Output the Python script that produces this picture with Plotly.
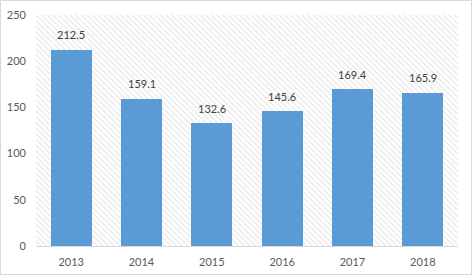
import plotly.graph_objects as go

years = ["2013", "2014", "2015", "2016", "2017", "2018"]
values = [212.5, 159.1, 132.6, 145.6, 169.4, 165.9]
y_ticks = [0, 50, 100, 150, 200, 250]

W, H = 472, 276
ml, mr, mt, mb = 36, 14, 15, 30
pw, ph = W - ml - mr, H - mt - mb

xs = list(range(len(years)))

fig = go.Figure()
# hatched plot-area background
fig.add_trace(go.Bar(
    x=[(len(years) - 1) / 2], y=[max(y_ticks)], width=len(years),
    marker=dict(color="white", line=dict(width=0),
                pattern=dict(shape="\\", fgcolor="#cfcfcf", bgcolor="white", size=4, solidity=0.3)),
    hoverinfo="skip", showlegend=False,
))
fig.add_trace(go.Bar(
    x=xs, y=values, width=0.58,
    marker=dict(color="#5B9BD5", line=dict(width=0)),
    showlegend=False,
))
for x, v in zip(xs, values):
    fig.add_annotation(x=x, y=v, text=f"{v:.1f}", showarrow=False, yshift=15,
                       font=dict(family="Lato, Liberation Sans, sans-serif", size=11, color="#404040"))

fig.add_shape(type="rect", xref="paper", yref="paper",
              x0=(0.5 - ml) / pw, x1=(W - 0.5 - ml) / pw,
              y0=-(mb - 1.5) / ph, y1=1 + (mt - 0.5) / ph,
              line=dict(color="#d9d9d9", width=1), fillcolor="rgba(0,0,0,0)", layer="below")

fig.update_layout(
    width=W, height=H, margin=dict(l=ml, r=mr, t=mt, b=mb, autoexpand=False),
    barmode="overlay", bargap=0,
    paper_bgcolor="white", plot_bgcolor="white",
    font=dict(family="Lato, Liberation Sans, sans-serif", size=11, color="#595959"),
    xaxis=dict(range=[-0.5, len(years) - 0.5], tickvals=xs, ticktext=years, automargin=False,
               showgrid=False, zeroline=False, showline=True, linecolor="#d9d9d9", linewidth=1,
               ticks="", ticklabelstandoff=6, fixedrange=True),
    yaxis=dict(range=[0, 250], tickvals=y_ticks, showgrid=False, zeroline=False, automargin=False,
               showline=False, ticks="", ticklabelstandoff=9, fixedrange=True),
)

fig.write_html("out.html", config={"displayModeBar": False},
               post_script="document.body.style.margin='0';document.body.style.overflow='hidden';")
